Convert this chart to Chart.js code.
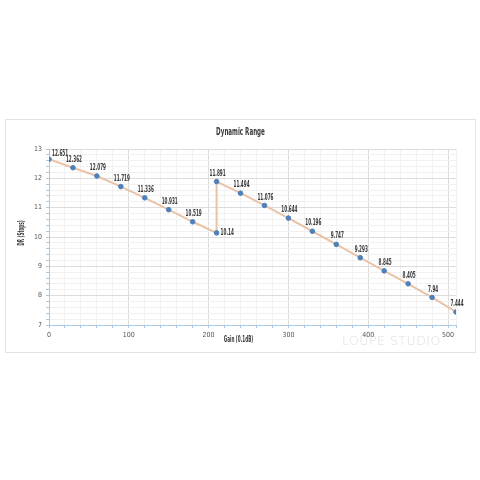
<!DOCTYPE html>
<html>
<head>
<meta charset="utf-8">
<script src="https://cdn.jsdelivr.net/npm/chart.js@4"></script>
<style>
  html, body { margin: 0; padding: 0; background: #ffffff; }
  #card { position: absolute; left: 5px; top: 119px; width: 471px; height: 234px; border: 1px solid #e3e3e3; box-sizing: border-box; background: #fff; }
  #wrap { position: absolute; left: 0; top: 0; width: 469px; height: 232px; }
  #wm { position: absolute; left: 342px; top: 333px; font-family: 'DejaVu Sans', sans-serif; font-size: 12.5px; letter-spacing: 0.5px; color: rgba(200,200,200,0.6); font-weight: 300; }
</style>
</head>
<body>
<div id="card"><div id="wrap"><canvas id="c"></canvas></div></div>
<div id="wm">LOUPE STUDIO</div>
<script>
const gain = [0, 30, 60, 90, 120, 150, 180, 210, 210, 240, 270, 300, 330, 360, 390, 420, 450, 480, 510];
const dr = [12.651, 12.362, 12.079, 11.719, 11.336, 10.931, 10.519, 10.14, 11.891, 11.494, 11.076, 10.644, 10.196, 9.747, 9.293, 8.845, 8.405, 7.94, 7.444];
const drLabels = ['12.651','12.362','12.079','11.719','11.336','10.931','10.519','10.14','11.891','11.494','11.076','10.644','10.196','9.747','9.293','8.845','8.405','7.94','7.444'];
const xTickLabels = [0, 100, 200, 300, 400, 500];
const yTickLabels = [7, 8, 9, 10, 11, 12, 13];
const xMinorStep = 20;
const yMinorStep = 0.2;
const chartTitle = 'Dynamic Range';
const xTitle = 'Gain (0.1dB)';
const yTitle = 'DR (Stops)';

const FONT = "'DejaVu Sans Condensed', 'Liberation Sans', sans-serif";

// draws condensed text (horizontally squeezed like the reference's condensed face)
function condText(ctx, s, x, y, squeeze) {
  const w = ctx.measureText(s).width;
  ctx.fillText(s, x, y, w * squeeze);
}

const labelPlugin = {
  id: 'pointLabels',
  afterDatasetsDraw(chart) {
    const ctx = chart.ctx;
    const meta = chart.getDatasetMeta(0);
    ctx.save();
    ctx.font = "bold 8px " + FONT;
    ctx.fillStyle = '#3a3a3a';
    meta.data.forEach((pt, i) => {
      const next = dr[i + 1];
      const x = pt.x, y = pt.y;
      if (i === 0) {
        ctx.textAlign = 'left'; ctx.textBaseline = 'middle';
        condText(ctx, drLabels[i], x + 3, y - 5, 0.58);
      } else if (next !== undefined && next > dr[i]) {
        ctx.textAlign = 'left'; ctx.textBaseline = 'middle';
        condText(ctx, drLabels[i], x + 4, y, 0.58);
      } else {
        ctx.textAlign = 'center'; ctx.textBaseline = 'bottom';
        condText(ctx, drLabels[i], x + 1, y - 4, 0.58);
      }
    });
    ctx.restore();
  }
};

const titlesPlugin = {
  id: 'titles',
  afterDraw(chart) {
    const ctx = chart.ctx;
    const a = chart.chartArea;
    ctx.save();
    ctx.fillStyle = '#3a3a3a';
    ctx.textAlign = 'center'; ctx.textBaseline = 'middle';
    ctx.font = "bold 10px " + FONT;
    condText(ctx, chartTitle, (a.left + a.right) / 2 - 12, 12, 0.62);
    ctx.font = "bold 8px " + FONT;
    condText(ctx, xTitle, (a.left + a.right) / 2 - 14, a.bottom + 15, 0.58);
    ctx.translate(16, (a.top + a.bottom) / 2 - 4);
    ctx.rotate(-Math.PI / 2);
    condText(ctx, yTitle, 0, 0, 0.58);
    ctx.restore();
  }
};

const isInt = v => Math.abs(v - Math.round(v)) < 1e-6;

new Chart(document.getElementById('c'), {
  type: 'scatter',
  data: {
    datasets: [{
      data: gain.map((g, i) => ({ x: g, y: dr[i] })),
      showLine: true,
      borderColor: '#e9c3a6',
      borderWidth: 2,
      pointBackgroundColor: '#4e80bb',
      pointBorderColor: '#4e80bb',
      pointBorderWidth: 1,
      pointRadius: 2.3,
      pointHoverRadius: 2.3
    }]
  },
  options: {
    responsive: true,
    maintainAspectRatio: false,
    animation: false,
    layout: { padding: { left: 0, right: 19, top: 29, bottom: 0 } },
    plugins: {
      legend: { display: false },
      tooltip: { enabled: false },
      title: { display: false }
    },
    scales: {
      x: {
        type: 'linear', min: 0, max: 510,
        afterBuildTicks: s => {
          const t = [];
          for (let v = 0; v <= 500; v += xMinorStep) t.push({ value: v });
          t.push({ value: 510 });
          s.ticks = t;
        },
        afterFit: s => { s.height = 27; },
        ticks: {
          autoSkip: false, maxRotation: 0, color: '#555',
          font: { family: FONT, size: 7 }, padding: 3,
          callback: v => xTickLabels.includes(v) ? String(v) : ''
        },
        grid: {
          color: c => (c.tick && xTickLabels.includes(c.tick.value)) ? '#dcdcdc' : '#f1f1f1',
          tickColor: '#a9c9e8', tickLength: 3, drawTicks: true
        },
        border: { color: '#a9c9e8', width: 1 }
      },
      y: {
        min: 7, max: 13,
        afterBuildTicks: s => {
          const t = [];
          for (let k = 0; k <= 30; k++) t.push({ value: Math.round((7 + k * yMinorStep) * 10) / 10 });
          s.ticks = t;
        },
        afterFit: s => { s.width = 43; },
        ticks: {
          autoSkip: false, color: '#555',
          font: { family: FONT, size: 7 }, padding: 4,
          callback: v => (isInt(v) && yTickLabels.includes(Math.round(v))) ? String(Math.round(v)) : ''
        },
        grid: {
          color: c => (c.tick && isInt(c.tick.value)) ? '#dcdcdc' : '#f1f1f1',
          tickColor: '#a9c9e8', tickLength: 3
        },
        border: { color: '#a9c9e8', width: 1 }
      }
    }
  },
  plugins: [labelPlugin, titlesPlugin]
});
</script>
</body>
</html>
